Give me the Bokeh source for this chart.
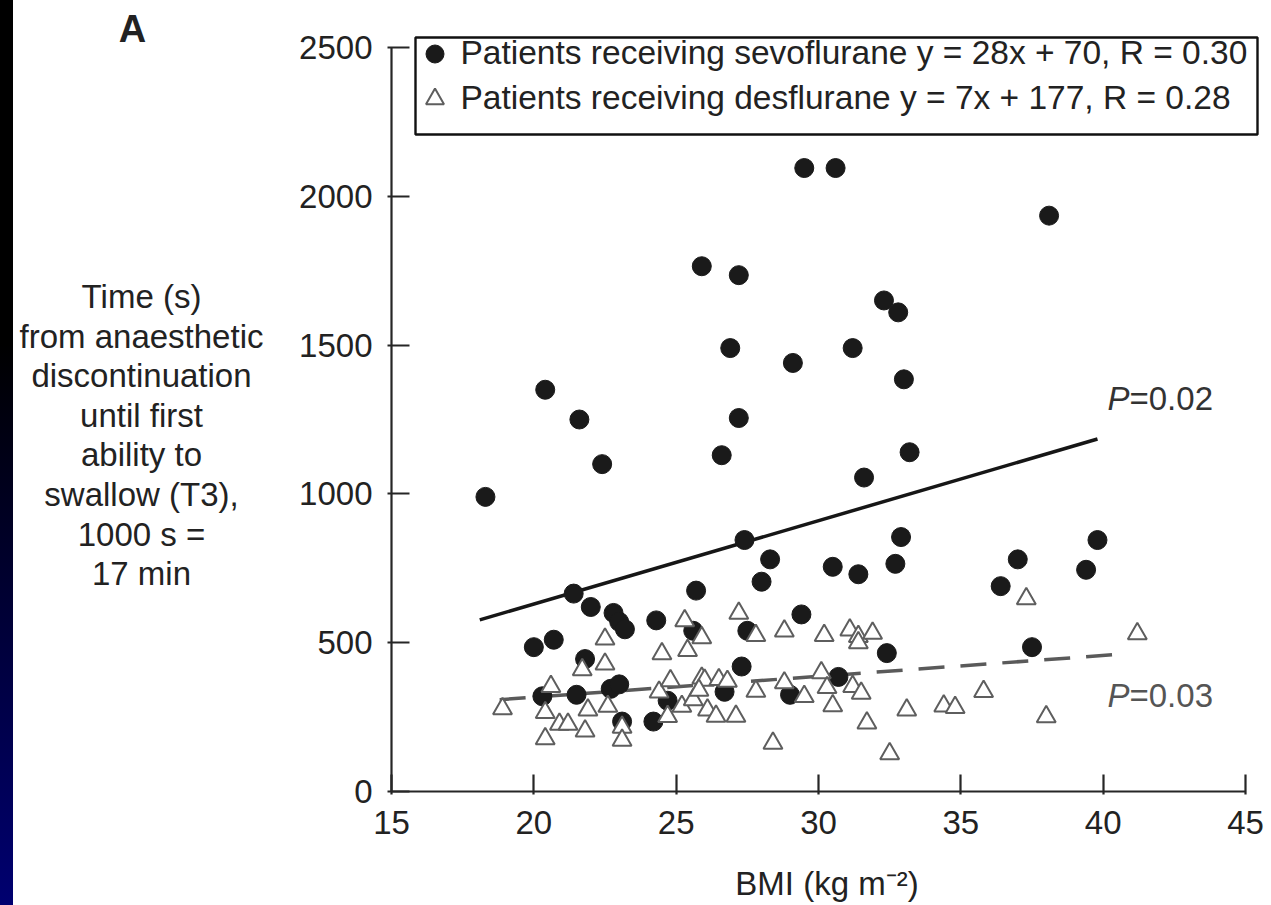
from bokeh.plotting import figure
from bokeh.models import Range1d, Label, Legend, LegendItem, BoxAnnotation, FixedTicker, Div
from bokeh.layouts import row
from bokeh.embed import file_html
from bokeh.resources import INLINE

# ---------------- data ----------------
sevo_bmi = [18.3, 20.4, 21.6, 22.4, 26.9, 29.1, 31.2, 27.2, 26.6, 31.6,
            27.4, 28.3, 28.0, 30.5, 31.4, 25.7, 29.5, 30.6, 25.9, 27.2,
            32.3, 32.8, 33.0, 33.2, 32.9, 32.7, 37.0, 36.4, 39.8, 39.4,
            32.4, 37.5, 30.7, 29.4, 38.1, 21.4, 22.0, 22.8, 23.0, 23.2,
            24.3, 25.6, 27.5, 20.0, 20.7, 21.8, 27.3, 20.3, 21.5, 22.7,
            23.0, 24.7, 26.7, 29.0, 24.2, 23.1]
sevo_time = [990, 1350, 1250, 1100, 1490, 1440, 1490, 1255, 1130, 1055,
             845, 780, 705, 755, 730, 675, 2095, 2095, 1765, 1735,
             1650, 1610, 1385, 1140, 855, 765, 780, 690, 845, 745,
             465, 485, 385, 595, 1935, 665, 620, 600, 570, 545,
             575, 540, 540, 485, 510, 445, 420, 320, 325, 345,
             360, 305, 335, 325, 235, 235]

des_bmi = [18.9, 20.6, 20.4, 20.4, 20.9, 21.2, 21.7, 21.8, 21.9, 22.5,
           22.5, 22.6, 23.1, 23.1, 24.5, 24.4, 24.8, 24.7, 25.2, 25.3,
           25.4, 25.9, 25.6, 25.9, 26.0, 25.8, 26.1, 26.5, 26.8, 26.4,
           27.1, 27.2, 27.8, 27.8, 28.4, 28.8, 28.8, 29.5, 30.2, 30.1,
           30.3, 30.5, 31.1, 31.4, 31.4, 31.9, 31.2, 31.5, 31.7, 32.5,
           33.1, 34.4, 34.8, 35.8, 37.3, 38.0, 41.2]
des_time = [278, 353, 265, 177, 226, 226, 409, 203, 274, 428,
            512, 286, 216, 172, 463, 334, 372, 252, 286, 574,
            474, 517, 308, 381, 374, 340, 274, 376, 370, 253,
            253, 599, 524, 337, 162, 539, 365, 319, 524, 399,
            349, 288, 543, 521, 500, 532, 353, 330, 230, 127,
            274, 287, 282, 336, 648, 251, 530]

# regression fits: slope, intercept, BMI span of the drawn line
sevo_fit = (28, 70)
sevo_span = (18.1, 39.8)
des_fit = (7, 177)
des_span = (18.8, 40.4)

x_ticks = [15, 20, 25, 30, 35, 40, 45]
x_tick_labels = ["15", "20", "25", "30", "35", "40", "45"]
y_ticks = [0, 500, 1000, 1500, 2000, 2500]
y_tick_labels = ["0", "500", "1000", "1500", "2000", "2500"]

sevo_label = "Patients receiving sevoflurane y = 28x + 70, R = 0.30"
des_label = "Patients receiving desflurane y = 7x + 177, R = 0.28"
y_title_lines = ["Time (s)", "from anaesthetic", "discontinuation", "until first",
                 "ability to", "swallow (T3),", "1000 s =", "17 min"]
x_title = "BMI (kg m\u207b\u00b2)"

# ---------------- layout (page pixels) ----------------
FONT = "Liberation Sans"
STRIP = 13                      # dark slide edge on the left
SPLIT = 280                     # where the title panel ends and the chart begins
PAGE_W, PAGE_H = 1271, 905
PX_X0, PX_X1 = 391, 1245        # page x of BMI 15 and 45
PX_Y0, PX_Y1 = 791, 47          # page y of 0 s and 2500 s
FRAME_R, FRAME_T = 1262, 10     # frame reaches a bit past the axes for the key box
TITLE_X, TITLE_Y0, TITLE_DY = 141, 296, 39.6

AX = "#262626"
TXT = "#222222"


def sx2x(px):
    return 15 + (px - PX_X0) * 30.0 / (PX_X1 - PX_X0)


def sy2y(py):
    return (PX_Y0 - py) * 2500.0 / (PX_Y0 - PX_Y1)


# ---- title panel: panel letter and the horizontal y-axis title ----
# (its frame shares the chart frame's top and bottom, so data units = page pixels)
t = figure(width=SPLIT - STRIP, height=PAGE_H, output_backend="svg",
           toolbar_location=None, x_range=Range1d(STRIP, SPLIT),
           y_range=Range1d(PX_Y0, FRAME_T), x_axis_location=None, y_axis_location=None,
           min_border_left=0, min_border_right=0,
           min_border_top=FRAME_T, min_border_bottom=PAGE_H - PX_Y0)
t.grid.visible = False
t.outline_line_color = None
t.background_fill_color = "white"
t.border_fill_color = "white"
t.add_layout(Label(x=132, y=28.5, text="A", text_font=FONT,
                   text_font_size="38px", text_font_style="bold", text_color=TXT,
                   text_align="center", text_baseline="middle"))
for i, line in enumerate(y_title_lines):
    t.add_layout(Label(x=TITLE_X, y=TITLE_Y0 + i * TITLE_DY, text=line,
                       text_font=FONT, text_font_size="33px", text_color=TXT,
                       text_align="center", text_baseline="middle"))

# ---- chart ----
p = figure(width=PAGE_W - SPLIT, height=PAGE_H,
           output_backend="svg", toolbar_location=None,
           x_range=Range1d(15, sx2x(FRAME_R)),
           y_range=Range1d(0, sy2y(FRAME_T)),
           min_border_left=PX_X0 - SPLIT, min_border_right=PAGE_W - FRAME_R,
           min_border_top=FRAME_T, min_border_bottom=PAGE_H - PX_Y0)
p.grid.visible = False
p.outline_line_color = None
p.background_fill_color = "white"
p.border_fill_color = "white"

xa = p.xaxis[0]
xa.bounds = (15, 45)
xa.ticker = FixedTicker(ticks=x_ticks)
xa.major_label_overrides = dict(zip(x_ticks, x_tick_labels))
xa.major_tick_in = 17
xa.major_tick_out = 3
xa.major_label_standoff = 16
xa.axis_label = x_title
xa.axis_label_standoff = 28
xa.axis_label_text_font_style = "normal"

ya = p.yaxis[0]
ya.bounds = (0, 2500)
ya.ticker = FixedTicker(ticks=y_ticks)
ya.major_label_overrides = dict(zip(y_ticks, y_tick_labels))
ya.major_tick_in = 18
ya.major_tick_out = 4
ya.major_label_standoff = 15

for ax in (xa, ya):
    ax.minor_tick_line_color = None
    ax.axis_line_width = 2.2
    ax.axis_line_color = AX
    ax.major_tick_line_width = 2.2
    ax.major_tick_line_color = AX
    ax.major_label_text_font = FONT
    ax.major_label_text_font_size = "33px"
    ax.major_label_text_color = TXT
    ax.axis_label_text_font = FONT
    ax.axis_label_text_font_size = "33px"
    ax.axis_label_text_color = TXT

# regression lines
sx = list(sevo_span)
p.line(sx, [sevo_fit[0] * v + sevo_fit[1] for v in sx],
       line_color="#161616", line_width=3.5)
dx = list(des_span)
p.line(dx, [des_fit[0] * v + des_fit[1] for v in dx],
       line_color="#5a5a5a", line_width=3.5, line_dash="26 16")

# points
sevo_r = p.scatter(sevo_bmi, sevo_time, marker="circle", size=19,
                   fill_color="#1a1a1a", line_color="#1a1a1a", line_width=1)
des_r = p.scatter(des_bmi, des_time, marker="triangle", size=19,
                  fill_color="white", line_color="#5e5e5e", line_width=2)

# key box and key
p.add_layout(BoxAnnotation(left=sx2x(415), right=sx2x(1257),
                           top=sy2y(37), bottom=sy2y(134),
                           fill_color="white", fill_alpha=1.0,
                           line_color="#111111", line_alpha=1.0, line_width=2.4,
                           level="annotation"))
legend = Legend(items=[LegendItem(label=sevo_label, renderers=[sevo_r]),
                       LegendItem(label=des_label, renderers=[des_r])],
                location=(20.5, 670.5),
                padding=0, spacing=0, glyph_width=45, glyph_height=45,
                label_height=45, label_standoff=4,
                label_text_font=FONT, label_text_font_size="33.5px",
                label_text_color=TXT,
                background_fill_alpha=0, border_line_alpha=0)
p.add_layout(legend)

# P-value notes
for py, col, txt in ((397.5, "#333333", "=0.02"), (694.5, "#555555", "=0.03")):
    p.add_layout(Label(x=sx2x(1107), y=sy2y(py), text="P", text_font=FONT,
                       text_font_size="33px", text_font_style="italic",
                       text_color=col, text_baseline="middle", text_align="left"))
    p.add_layout(Label(x=sx2x(1129), y=sy2y(py), text=txt, text_font=FONT,
                       text_font_size="33px", text_color=col,
                       text_baseline="middle", text_align="left"))

edge = Div(width=STRIP, height=PAGE_H, margin=0,
           styles={"background": "linear-gradient(to bottom, #000000 0%, #000000 38%, #000070 100%)"})

layout = row(edge, t, p, spacing=0)
open("out.html", "w").write(file_html(layout, INLINE))
